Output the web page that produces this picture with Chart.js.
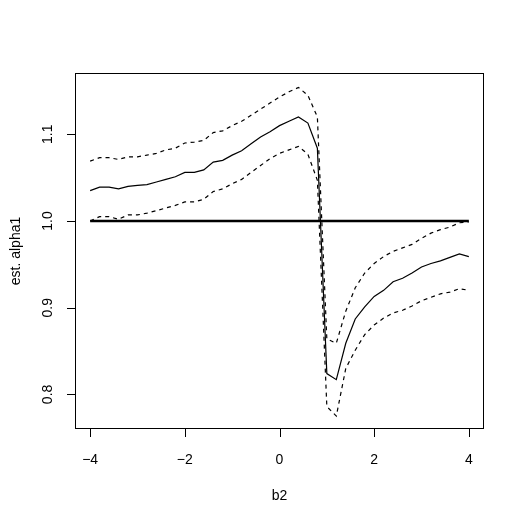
<!DOCTYPE html>
<html>
<head>
<meta charset="utf-8">
<script src="https://cdn.jsdelivr.net/npm/chart.js@4.4.1/dist/chart.umd.min.js"></script>
<style>
  html, body { margin: 0; padding: 0; background: #ffffff; }
  canvas { display: block; }
</style>
</head>
<body>
<canvas id="plot" width="523" height="523"></canvas>
<script>
// b2 grid (x values)
const b2 = [-4.0, -3.8, -3.6, -3.4, -3.2, -3.0, -2.8, -2.6, -2.4, -2.2,
            -2.0, -1.8, -1.6, -1.4, -1.2, -1.0, -0.8, -0.6, -0.4, -0.2,
             0.0,  0.2,  0.4,  0.6,  0.8,  1.0,  1.2,  1.4,  1.6,  1.8,
             2.0,  2.2,  2.4,  2.6,  2.8,  3.0,  3.2,  3.4,  3.6,  3.8, 4.0];

// estimated alpha1 (solid)
const estAlpha = [1.035, 1.039, 1.039, 1.037, 1.040, 1.041, 1.042, 1.045, 1.048, 1.051,
                  1.056, 1.056, 1.059, 1.068, 1.070, 1.076, 1.081, 1.089, 1.097, 1.103,
                  1.110, 1.115, 1.120, 1.113, 1.084, 0.824, 0.817, 0.859, 0.887, 0.901,
                  0.913, 0.920, 0.930, 0.934, 0.940, 0.947, 0.951, 0.954, 0.958, 0.962, 0.959];

// upper band (dashed)
const upperBand = [1.069, 1.073, 1.073, 1.071, 1.074, 1.074, 1.076, 1.078, 1.082, 1.084,
                   1.090, 1.091, 1.093, 1.102, 1.104, 1.110, 1.115, 1.122, 1.129, 1.136,
                   1.143, 1.149, 1.154, 1.145, 1.120, 0.864, 0.859, 0.896, 0.923, 0.940,
                   0.951, 0.959, 0.965, 0.969, 0.973, 0.980, 0.986, 0.990, 0.993, 0.998, 0.999];

// lower band (dashed)
const lowerBand = [1.000, 1.005, 1.005, 1.002, 1.007, 1.007, 1.009, 1.012, 1.015, 1.018,
                   1.022, 1.022, 1.025, 1.034, 1.037, 1.043, 1.048, 1.056, 1.064, 1.072,
                   1.078, 1.082, 1.086, 1.077, 1.047, 0.786, 0.775, 0.830, 0.851, 0.869,
                   0.880, 0.888, 0.894, 0.897, 0.902, 0.908, 0.912, 0.916, 0.918, 0.922, 0.920];

// reference line at true value
const refX = [-4, 4];
const refY = [1.0, 1.0];

// axis ticks
const xTicks = [-4, -2, 0, 2, 4];
const yTicks = [0.8, 0.9, 1.0, 1.1];
const yTickLabels = ["0.8", "0.9", "1.0", "1.1"];

const xTitle = "b2";
const yTitle = "est. alpha1";

let pts = (xs, ys) => xs.map((x, i) => ({x: x, y: ys[i]}));

const FONT = '"Liberation Sans", Arial, Helvetica, sans-serif';

// draws the R-style box, ticks and labels
const rAxes = {
    id: "rAxes",
    afterDraw(chart) {
        const ctx = chart.ctx;
        const a = chart.chartArea;
        const xs = chart.scales.x;
        const ys = chart.scales.y;
        ctx.save();
        ctx.strokeStyle = "#000";
        ctx.lineWidth = 1;
        ctx.strokeRect(Math.round(a.left) + 0.5, Math.round(a.top) + 0.5,
                       Math.round(a.right - a.left) - 1, Math.round(a.bottom - a.top) - 1);

        ctx.fillStyle = "#000";
        ctx.font = "14px " + FONT;

        // x axis
        ctx.beginPath();
        xTicks.forEach(t => {
            const px = Math.round(xs.getPixelForValue(t)) + 0.5;
            ctx.moveTo(px, a.bottom);
            ctx.lineTo(px, a.bottom + 8);
        });
        ctx.stroke();
        ctx.textAlign = "center";
        ctx.textBaseline = "middle";
        xTicks.forEach(t => {
            const px = xs.getPixelForValue(t);
            const lab = t < 0 ? "\u2212" + Math.abs(t) : String(t);
            ctx.fillText(lab, px, a.bottom + 31);
        });
        ctx.fillText(xTitle, (a.left + a.right) / 2, a.bottom + 67);

        // y axis
        ctx.beginPath();
        yTicks.forEach(t => {
            const py = Math.round(ys.getPixelForValue(t)) + 0.5;
            ctx.moveTo(a.left, py);
            ctx.lineTo(a.left - 8, py);
        });
        ctx.stroke();
        yTicks.forEach((t, i) => {
            const py = ys.getPixelForValue(t);
            ctx.save();
            ctx.translate(a.left - 27, py);
            ctx.rotate(-Math.PI / 2);
            ctx.fillText(yTickLabels[i], 0, 0);
            ctx.restore();
        });
        ctx.save();
        ctx.translate(a.left - 59, (a.top + a.bottom) / 2);
        ctx.rotate(-Math.PI / 2);
        ctx.fillText(yTitle, 0, 0);
        ctx.restore();
        ctx.restore();
    }
};

new Chart(document.getElementById("plot"), {
    type: "scatter",
    data: {
        datasets: [
            {
                label: "true",
                data: pts(refX, refY),
                showLine: true,
                borderColor: "#000",
                borderWidth: 2.5,
                pointRadius: 0
            },
            {
                label: "estimate",
                data: pts(b2, estAlpha),
                showLine: true,
                borderColor: "#000",
                borderWidth: 1.2,
                pointRadius: 0
            },
            {
                label: "upper",
                data: pts(b2, upperBand),
                showLine: true,
                borderColor: "#000",
                borderWidth: 1.2,
                borderDash: [4, 4],
                pointRadius: 0
            },
            {
                label: "lower",
                data: pts(b2, lowerBand),
                showLine: true,
                borderColor: "#000",
                borderWidth: 1.2,
                borderDash: [4, 4],
                pointRadius: 0
            }
        ]
    },
    options: {
        responsive: false,
        animation: false,
        devicePixelRatio: 1,
        layout: { padding: { left: 75, right: 39, top: 73, bottom: 94 } },
        plugins: {
            legend: { display: false },
            tooltip: { enabled: false }
        },
        scales: {
            x: { type: "linear", min: -4.32, max: 4.32, display: false },
            y: { type: "linear", min: 0.7601, max: 1.1707, display: false }
        }
    },
    plugins: [rAxes]
});
</script>
</body>
</html>
